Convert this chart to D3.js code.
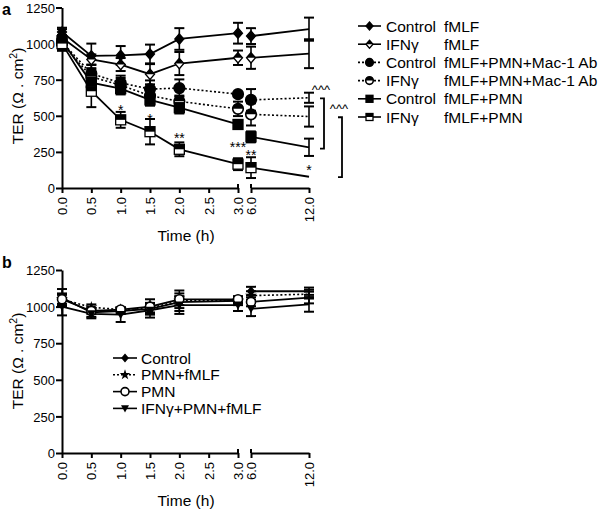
<!DOCTYPE html>
<html><head><meta charset="utf-8">
<script src="https://cdn.jsdelivr.net/npm/d3@7"></script>
<style>body{margin:0;background:#fff}text{font-family:"Liberation Sans",Arial,sans-serif;fill:#000}</style>
</head><body><svg id="c" width="600" height="511"></svg>
<script>
// ---------- data ----------
const times = [0, 0.5, 1, 1.5, 2, 3, 6, 12];
const xTicksLeft = [0, 0.5, 1, 1.5, 2, 2.5, 3];
const xTicksRight = [6, 12];
const yTicks = [0, 250, 500, 750, 1000, 1250];

// panel a
const aGroup = ["Control", "IFNγ", "Control", "IFNγ", "Control", "IFNγ"];
const aTreat = ["fMLF", "fMLF", "fMLF+PMN+Mac-1 Ab", "fMLF+PMN+Mac-1 Ab", "fMLF+PMN", "fMLF+PMN"];
const aCtrlFmlf    = [1080, 915, 918, 928, 1032, 1072, 1052, 1100];
const aCtrlFmlfErr = [30, 85, 65, 65, 75, 72, 55, 80];
const aIfnFmlf     = [1040, 890, 855, 788, 862, 902, 902, 930];
const aIfnFmlfErr  = [60, 35, 45, 70, 80, 50, 77, 100];
const aCtrlMac     = [1010, 792, 728, 685, 692, 650, 610, 625];
const aCtrlMacErr  = [40, 60, 50, 60, 60, 0, 75, 35];
const aIfnMac      = [1000, 770, 712, 640, 600, 548, 510, 495];
const aIfnMacErr   = [40, 50, 50, 40, 40, 50, 77, 70];
const aCtrlPmn     = [1020, 730, 688, 610, 556, 440, 354, 282];
const aCtrlPmnErr  = [40, 40, 40, 40, 40, 25, 38, 60];
const aIfnPmn      = [1000, 670, 472, 390, 268, 165, 141, 78];
const aIfnPmnErr   = [50, 110, 55, 88, 48, 41, 72, 0];
const aStarTimes = [1, 1.5, 2, 3, 6, 12];
const aStarText  = ["*", "*", "**", "***", "**", "*"];
const aStarVals  = [563, 501, 364, 302, 247, 144];
const aBracketFrom = [620, 490];
const aBracketTo   = [272, 75];
const aBracketText = ["^^^", "^^^"];

// panel b
const bNames = ["Control", "PMN+fMLF", "PMN", "IFNγ+PMN+fMLF"];
const bControl    = [1060, 960, 970, 985, 1030, 1040, 1105, 1105];
const bControlErr = [60, 30, 20, 40, 60, 30, 30, 25];
const bPmnFmlf    = [1050, 995, 980, 990, 1040, 1040, 1075, 1085];
const bPmnFmlfErr = [30, 20, 15, 30, 30, 20, 30, 30];
const bPmn        = [1050, 970, 980, 1000, 1050, 1050, 1032, 1062];
const bPmnErr     = [40, 20, 15, 50, 60, 20, 30, 40];
const bIfn        = [1000, 950, 945, 975, 1010, 1010, 985, 1015];
const bIfnErr     = [60, 30, 50, 50, 60, 40, 50, 50];

// ---------- drawing ----------
const svg = d3.select("#c");
svg.append("rect").attr("width", 600).attr("height", 511).attr("fill", "#fff");
const FONT = '"Liberation Sans",Arial,sans-serif';

function marker(g, type, cx, cy, s) {
  const k = "#000";
  if (type === "diamond" || type === "diamondHalf") {
    const h = s * 1.15;
    g.append("path").attr("d", `M${cx},${cy-h}L${cx+s},${cy}L${cx},${cy+h}L${cx-s},${cy}Z`)
      .attr("fill", type === "diamond" ? k : "#fff").attr("stroke", k).attr("stroke-width", 1.3);
    if (type === "diamondHalf")
      g.append("path").attr("d", `M${cx},${cy-h}L${cx+s},${cy}L${cx-s},${cy}Z`).attr("fill", k);
  } else if (type === "circle" || type === "circleHalf" || type === "circleOpen") {
    g.append("circle").attr("cx", cx).attr("cy", cy).attr("r", s)
      .attr("fill", type === "circle" ? k : "#fff").attr("stroke", k).attr("stroke-width", 1.6);
    if (type === "circleHalf")
      g.append("path").attr("d", `M${cx-s},${cy}A${s},${s} 0 0 1 ${cx+s},${cy}Z`).attr("fill", k);
  } else if (type === "square" || type === "squareHalf") {
    g.append("rect").attr("x", cx - s).attr("y", cy - s).attr("width", 2*s).attr("height", 2*s)
      .attr("fill", type === "square" ? k : "#fff").attr("stroke", k).attr("stroke-width", 1.3);
    if (type === "squareHalf")
      g.append("rect").attr("x", cx - s).attr("y", cy - s).attr("width", 2*s).attr("height", s).attr("fill", k);
  } else if (type === "star") {
    g.append("path").attr("d", d3.symbol(d3.symbolStar, s*s*2.2)()).attr("transform", `translate(${cx},${cy})`).attr("fill", k);
  } else if (type === "triDown") {
    g.append("path").attr("d", `M${cx-s},${cy-s*0.8}L${cx+s},${cy-s*0.8}L${cx},${cy+s}Z`).attr("fill", k);
  }
}

function panel(cfg) {
  const g = svg.append("g");
  const xL = d3.scaleLinear().domain([0, 3]).range([62, 238]);
  const xR = d3.scaleLinear().domain([6, 12]).range([251, 309]);
  const x = t => t <= 3 ? xL(t) : xR(t);
  const y = d3.scaleLinear().domain([0, 1250]).range([cfg.y0, cfg.y1]);

  // axes
  const ya = g.append("g").attr("transform", "translate(62,0)")
    .call(d3.axisLeft(y).tickValues(yTicks).tickSize(6).tickSizeOuter(0).tickPadding(1).tickFormat(d3.format("d")));
  const xa1 = g.append("g").attr("transform", `translate(0,${cfg.y0})`)
    .call(d3.axisBottom(xL).tickValues(xTicksLeft).tickSize(5).tickSizeOuter(0).tickFormat(d3.format(".1f")));
  const xa2 = g.append("g").attr("transform", `translate(0,${cfg.y0})`)
    .call(d3.axisBottom(xR).tickValues(xTicksRight).tickSize(5).tickSizeOuter(0).tickFormat(d3.format(".1f")));
  [ya, xa1, xa2].forEach(a => {
    a.selectAll("path.domain").attr("stroke-width", 2).attr("stroke", "#000");
    a.selectAll("line").attr("stroke-width", 2).attr("stroke", "#000");
    a.selectAll("text").style("font-family", FONT).style("font-size", "13px").attr("fill", "#000");
  });
  ya.selectAll("text").attr("dy", "0.36em");
  [xa1, xa2].forEach(a => {
    a.selectAll("text").attr("transform", "rotate(-90)").attr("text-anchor", "end")
      .attr("x", -9).attr("y", 0).attr("dy", "0.35em");
  });
  // break-end caps
  [xL(3), xR(6)].forEach(px => g.append("line").attr("x1", px).attr("x2", px)
    .attr("y1", cfg.y0 - 4).attr("y2", cfg.y0).attr("stroke", "#000").attr("stroke-width", 2));

  // titles
  g.append("text").attr("x", 186).attr("y", cfg.y0 + 53).attr("text-anchor", "middle")
    .style("font-size", "15.5px").text("Time (h)");
  const yt = g.append("text").attr("transform", `translate(23,${cfg.ty}) rotate(-90)`)
    .attr("text-anchor", "middle").style("font-size", "15.5px");
  yt.append("tspan").text("TER (Ω . cm");
  yt.append("tspan").attr("dy", -6).style("font-size", "10.5px").text("2");
  yt.append("tspan").attr("dy", 6).text(")");
  g.append("text").attr("x", 2).attr("y", cfg.lblY).style("font-size", "16px")
    .style("font-weight", "bold").text(cfg.label);

  // series
  cfg.series.forEach(s => {
    const pts = times.map((t, i) => ({t, v: s.vals[i]}));
    const line = d3.line().x(d => x(d.t)).y(d => y(d.v));
    [pts.filter(d => d.t <= 3), pts.filter(d => d.t >= 6)].forEach(seg => {
      g.append("path").attr("d", line(seg)).attr("fill", "none").attr("stroke", "#000")
        .attr("stroke-width", s.dotted ? 1.6 : 1.8).attr("stroke-dasharray", s.dotted ? "2,2.2" : null);
    });
  });
  cfg.series.forEach(s => {
    times.forEach((t, i) => {
      const e = s.errs[i]; if (!e) return;
      const px = x(t), lo = y(s.vals[i] - e), hi = y(s.vals[i] + e);
      g.append("line").attr("x1", px).attr("x2", px).attr("y1", lo).attr("y2", hi).attr("stroke", "#000").attr("stroke-width", 1.6);
      [lo, hi].forEach(py => g.append("line").attr("x1", px - 5).attr("x2", px + 5).attr("y1", py).attr("y2", py)
        .attr("stroke", "#000").attr("stroke-width", 2));
    });
  });
  // markers (the reference shows none at the 12 h end of the axis)
  cfg.series.forEach(s => {
    times.forEach((t, i) => { if (t < 12) marker(g, s.m, x(t), y(s.vals[i]), s.ms); });
  });
  return {g, x, y};
}

// panel a
const pa = panel({
  y0: 188, y1: 7.5, ty: 96, label: "a", lblY: 14.5,
  series: [
    {vals: aCtrlFmlf, errs: aCtrlFmlfErr, m: "diamond", ms: 4.5},
    {vals: aIfnFmlf, errs: aIfnFmlfErr, m: "diamondHalf", ms: 4.5},
    {vals: aCtrlMac, errs: aCtrlMacErr, m: "circle", ms: 5.3, dotted: true},
    {vals: aIfnMac, errs: aIfnMacErr, m: "circleHalf", ms: 5.3, dotted: true},
    {vals: aCtrlPmn, errs: aCtrlPmnErr, m: "square", ms: 5},
    {vals: aIfnPmn, errs: aIfnPmnErr, m: "squareHalf", ms: 5}
  ]
});
aStarTimes.forEach((t, i) => {
  pa.g.append("text").attr("x", pa.x(t)).attr("y", pa.y(aStarVals[i]) + 8)
    .attr("text-anchor", "middle").style("font-size", "14px").text(aStarText[i]);
});
const brOff = [15, 33], lblOff = [12, 30];
aBracketFrom.forEach((f, i) => {
  const bx = pa.x(12) + brOff[i], y1 = pa.y(f), y2 = pa.y(aBracketTo[i]);
  pa.g.append("path").attr("d", `M${bx-4},${y1}H${bx}V${y2}H${bx-4}`).attr("fill", "none")
    .attr("stroke", "#000").attr("stroke-width", 1.8);
  pa.g.append("text").attr("x", pa.x(12) + lblOff[i]).attr("y", y1 - 4).attr("text-anchor", "middle")
    .style("font-size", "13px").text(aBracketText[i]);
});
const aMarks = ["diamond", "diamondHalf", "circle", "circleHalf", "square", "squareHalf"];
const aDots = [false, false, true, true, false, false];
aGroup.forEach((n, i) => {
  const yy = 26 + i * 18.2;
  const lg = svg.append("g");
  lg.append("line").attr("x1", 358).attr("x2", 381).attr("y1", yy).attr("y2", yy).attr("stroke", "#000")
    .attr("stroke-width", 1.6).attr("stroke-dasharray", aDots[i] ? "2,2" : null);
  marker(lg, aMarks[i], 369.5, yy, aMarks[i].startsWith("circle") ? 3.8 : 3.5);
  lg.append("text").attr("x", 386).attr("y", yy + 5.5).style("font-size", "15.5px").text(n);
  lg.append("text").attr("x", 444).attr("y", yy + 5.5).style("font-size", "15.5px").text(aTreat[i]);
});

// panel b
const pb = panel({
  y0: 453, y1: 270, ty: 361, label: "b", lblY: 268,
  series: [
    {vals: bControl, errs: bControlErr, m: "diamond", ms: 3.5},
    {vals: bPmnFmlf, errs: bPmnFmlfErr, m: "star", ms: 4.5, dotted: true},
    {vals: bPmn, errs: bPmnErr, m: "circleOpen", ms: 4.5},
    {vals: bIfn, errs: bIfnErr, m: "triDown", ms: 4.5}
  ]
});
const bMarks = ["diamond", "star", "circleOpen", "triDown"];
const bDots = [false, true, false, false];
bNames.forEach((n, i) => {
  const yy = 358 + i * 16.8;
  const lg = svg.append("g");
  lg.append("line").attr("x1", 113).attr("x2", 137).attr("y1", yy).attr("y2", yy).attr("stroke", "#000")
    .attr("stroke-width", 1.6).attr("stroke-dasharray", bDots[i] ? "2,2" : null);
  marker(lg, bMarks[i], 125, yy, bMarks[i] === "diamond" ? 3 : 4);
  lg.append("text").attr("x", 141).attr("y", yy + 5.5).style("font-size", "15.5px").text(n);
});
</script></body></html>
